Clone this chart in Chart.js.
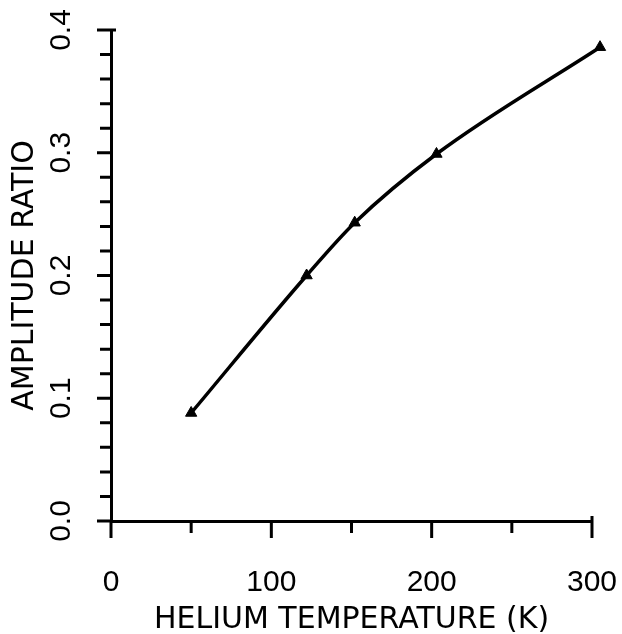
<!DOCTYPE html>
<html lang="en">
<head>
<meta charset="utf-8"/>
<title>Amplitude ratio vs helium temperature</title>
<script src="https://cdn.jsdelivr.net/npm/chart.js"></script>
<style>
  html, body { margin: 0; padding: 0; background: #fff; }
  #wrap { width: 622px; height: 634px; }
</style>
</head>
<body>
<div id="wrap"><canvas id="ratioChart"></canvas></div>
<script>
  // values
  const temperatures = [50, 122, 152, 203, 305];
  const amplitudeRatios = [0.088, 0.200, 0.243, 0.299, 0.386];
  const xTickLabels = [0, 100, 200, 300];
  const yTickLabels = [0.0, 0.1, 0.2, 0.3, 0.4];

  const FONT = 'Liberation Sans, Arial, sans-serif';
  const TITLE_FONT = 'DejaVu Sans, sans-serif';

  function isMajorX(v) { return xTickLabels.includes(Math.round(v)); }
  function isMajorY(v) { return yTickLabels.some(t => Math.abs(t - v) < 1e-6); }

  // tick marks drawn outside the axes, long for labelled ticks, short otherwise
  const axisTicks = {
    id: 'axisTicks',
    afterDraw(chart) {
      const ctx = chart.ctx;
      const xs = chart.scales.x, ys = chart.scales.y;
      const area = chart.chartArea;
      ctx.save();
      ctx.strokeStyle = '#000';
      ctx.lineWidth = 3;
      ctx.beginPath();
      ys.ticks.forEach(t => {
        const py = ys.getPixelForValue(t.value);
        const len = isMajorY(t.value) ? 14 : 11;
        ctx.moveTo(area.left - len, py);
        ctx.lineTo(area.left, py);
      });
      xs.ticks.forEach(t => {
        const px = xs.getPixelForValue(t.value);
        const len = isMajorX(t.value) ? 17 : 12;
        ctx.moveTo(px, area.bottom);
        ctx.lineTo(px, area.bottom + len);
      });
      // small hooks at the ends of both axes
      const top = ys.getPixelForValue(ys.max);
      ctx.moveTo(area.left, top);
      ctx.lineTo(area.left + 5, top);
      const right = xs.getPixelForValue(xs.max);
      ctx.moveTo(right, area.bottom);
      ctx.lineTo(right, area.bottom - 5);
      ctx.stroke();
      ctx.restore();
    }
  };

  // fixed scale sizes, and no extra room for labels hanging past the axis ends
  function fixSize(s, w, h) {
    if (w) s.width = w;
    if (h) s.height = h;
    s.paddingLeft = s.paddingRight = s.paddingTop = s.paddingBottom = 0;
  }

  new Chart(document.getElementById('ratioChart'), {
    type: 'line',
    data: {
      datasets: [{
        data: temperatures.map((t, i) => ({ x: t, y: amplitudeRatios[i] })),
        borderColor: '#000',
        borderWidth: 3.5,
        backgroundColor: '#000',
        pointStyle: 'triangle',
        pointRadius: 6.5,
        pointHoverRadius: 12, // widens the in-area margin so the 305 K point is kept
        pointBackgroundColor: '#000',
        pointBorderColor: '#000',
        pointBorderWidth: 1,
        cubicInterpolationMode: 'monotone',
        fill: false,
        clip: false
      }]
    },
    options: {
      responsive: true,
      maintainAspectRatio: false,
      animation: false,
      events: [],
      layout: { padding: { top: 30, right: 30, left: 0, bottom: 0 } },
      plugins: {
        legend: { display: false },
        tooltip: { enabled: false }
      },
      scales: {
        x: {
          type: 'linear',
          min: 0,
          max: 300,
          grid: { display: false, drawTicks: false, tickLength: 0 },
          border: { display: true, color: '#000', width: 3 },
          ticks: {
            stepSize: 50,
            autoSkip: false,
            maxRotation: 0,
            padding: 44,
            color: '#000',
            font: { family: FONT, size: 30 },
            callback: v => isMajorX(v) ? String(Math.round(v)) : ''
          },
          title: {
            display: true,
            text: 'HELIUM TEMPERATURE (K)',
            color: '#000',
            font: { family: TITLE_FONT, size: 30, lineHeight: 0.9 },
            padding: { top: 0, bottom: 0 }
          },
          afterFit: s => fixSize(s, 0, 113)
        },
        y: {
          min: 0,
          max: 0.4,
          grid: { display: false, drawTicks: false, tickLength: 0 },
          border: { display: true, color: '#000', width: 3 },
          ticks: {
            stepSize: 0.02,
            autoSkip: false,
            minRotation: 90,
            maxRotation: 90,
            crossAlign: 'center',
            padding: 28,
            color: '#000',
            font: { family: FONT, size: 30 },
            callback: v => isMajorY(v) ? v.toFixed(1) : ''
          },
          title: {
            display: true,
            text: 'AMPLITUDE RATIO',
            color: '#000',
            font: { family: TITLE_FONT, size: 30, lineHeight: 0.9 },
            padding: { top: 12, bottom: 0 }
          },
          afterFit: s => fixSize(s, 111, 0)
        }
      }
    },
    plugins: [axisTicks]
  });
</script>
</body>
</html>
